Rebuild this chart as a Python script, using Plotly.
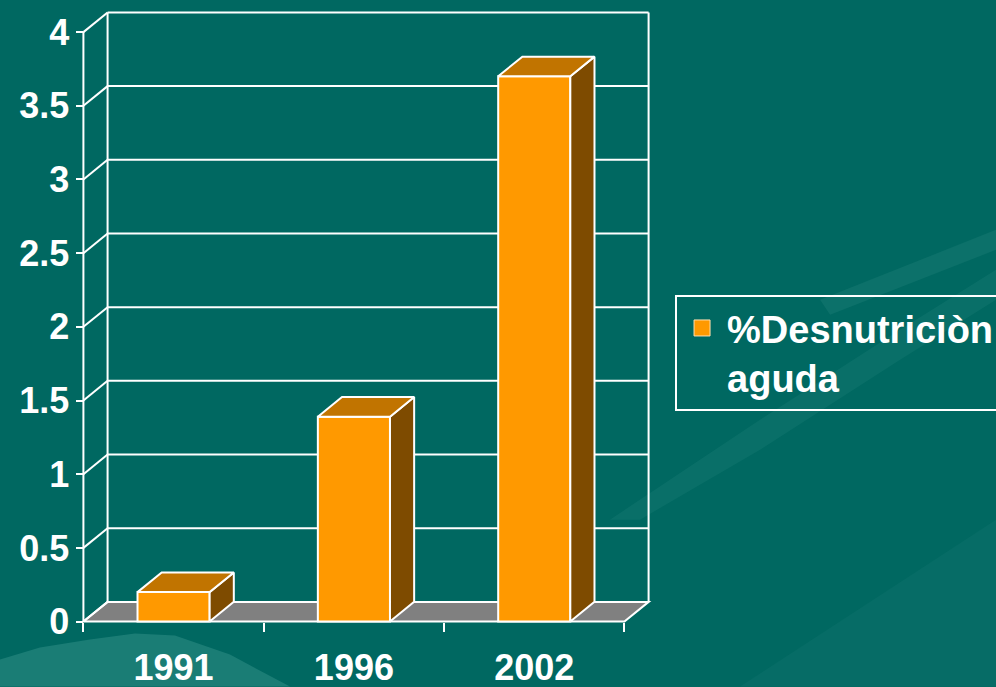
import plotly.graph_objects as go

# ---------------- data ----------------
years = ["1991", "1996", "2002"]
values = [0.2, 1.39, 3.7]
y_ticks = [0, 0.5, 1, 1.5, 2, 2.5, 3, 3.5, 4]
y_tick_labels = ["0", "0.5", "1", "1.5", "2", "2.5", "3", "3.5", "4"]
series_name = "%Desnutriciòn<br>aguda"

# ---------------- style ----------------
W, H = 996, 687
BG = "#006861"
FRONT = "#FF9900"
TOP = "#C17400"
SIDE = "#7E4B00"
FLOOR = "#808080"
LINE = "white"
FONT = "Liberation Sans, Arial, sans-serif"

DX, DY = 0.134, 0.1336      # 3-D depth offset in axis units
BAR_W = 0.4
pos = list(range(len(years)))
xl, xr = -0.5, len(years) - 0.5
ymax = y_ticks[-1]
PADX, PADY = 0.03, 0.03
x0, x1 = xl - PADX, xr + DX + PADX
y0, y1 = -PADY, ymax + DY + PADY
SX, SY = 180.3, 147.45       # px per axis unit
left_px, zero_px = 83.5, 622
ml = left_px - PADX * SX
pw = (x1 - x0) * SX
mr = W - ml - pw
mb = H - zero_px - PADY * SY
ph = (y1 - y0) * SY
mt = H - mb - ph

def px(xp):
    return (xp - ml) / pw
def py(yp):
    return (H - mb - yp) / ph

fig = go.Figure()

shapes = []
# ---------- subtle background decoration ----------
def deco(points, alpha):
    d = "M" + " L".join(f"{px(a):.4f},{py(b):.4f}" for a, b in points) + " Z"
    shapes.append(dict(type="path", xref="paper", yref="paper", path=d,
                       fillcolor=f"rgba(120,200,190,{alpha})", line=dict(width=0), layer="below"))
deco([(0, 660), (40, 648), (90, 640), (135, 634), (175, 636), (230, 655), (290, 687), (0, 687)], 0.22)
deco([(610, 520), (760, 420), (900, 330), (996, 270), (996, 300), (900, 360), (760, 450), (640, 520)], 0.08)
deco([(820, 300), (996, 230), (996, 250), (830, 315)], 0.10)
deco([(740, 687), (996, 520), (996, 687)], 0.05)

# ---------- walls and floor as shapes below traces ----------
def line(xa, ya, xb, yb):
    shapes.append(dict(type="line", xref="x", yref="y", x0=xa, y0=ya, x1=xb, y1=yb,
                       line=dict(color=LINE, width=2), layer="below"))

shapes.append(dict(type="path", xref="x", yref="y",
                   path=f"M{xl},0 L{xr},0 L{xr+DX},{DY} L{xl+DX},{DY} Z",
                   fillcolor=FLOOR, line=dict(color=LINE, width=2), layer="below"))
for v in y_ticks:
    line(xl + DX, v + DY, xr + DX, v + DY)
    line(xl, v, xl + DX, v + DY)
line(xl + DX, DY, xl + DX, ymax + DY)
line(xr + DX, DY, xr + DX, ymax + DY)
line(xl, 0, xl, ymax)

# ---------- bars ----------
fig.add_trace(go.Bar(x=pos, y=values, width=BAR_W, marker=dict(color=FRONT, line=dict(color=LINE, width=2)),
                     showlegend=False, hoverinfo="skip"))
for p, v in zip(pos, values):
    a, b = p - BAR_W / 2, p + BAR_W / 2
    fig.add_trace(go.Scatter(x=[b, b + DX, b + DX, b, b], y=[0, DY, v + DY, v, 0],
                             mode="lines", fill="toself", fillcolor=SIDE,
                             line=dict(color=LINE, width=2), showlegend=False, hoverinfo="skip"))
    fig.add_trace(go.Scatter(x=[a, b, b + DX, a + DX, a], y=[v, v, v + DY, v + DY, v],
                             mode="lines", fill="toself", fillcolor=TOP,
                             line=dict(color=LINE, width=2), showlegend=False, hoverinfo="skip"))

fig.add_trace(go.Scatter(x=[None], y=[None], mode="markers", name=series_name,
                         marker=dict(symbol="square", size=16, color=FRONT, line=dict(color="#FFE0B0", width=1))))

fig.update_layout(
    width=W, height=H,
    margin=dict(l=ml, r=mr, t=mt, b=mb, pad=0, autoexpand=False),
    paper_bgcolor=BG, plot_bgcolor="rgba(0,0,0,0)",
    font=dict(family=FONT, color="white", size=36, weight="bold"),
    shapes=shapes,
    showlegend=True,
    legend=dict(x=px(675), y=py(295), xanchor="left", yanchor="top",
                bordercolor=LINE, borderwidth=2, bgcolor="rgba(0,0,0,0)", valign="top",
                itemwidth=40, tracegroupgap=0,
                font=dict(family=FONT, size=38, color="white", weight="bold")),
    xaxis=dict(range=[x0, x1], tickmode="array", tickvals=pos, ticktext=years,
               ticks="", showgrid=False, zeroline=False, showline=False,
               anchor="free", position=(0 - y0) / (y1 - y0), ticklabelstandoff=21,
               tickfont=dict(family=FONT, size=36, color="white", weight="bold"),
               minor=dict(tickmode="array", tickvals=[p + 0.5 for p in [-1] + pos], ticks="outside",
                          ticklen=9, tickwidth=2, tickcolor=LINE, showgrid=False)),
    yaxis=dict(range=[y0, y1], tickmode="array", tickvals=y_ticks, ticktext=y_tick_labels,
               ticks="outside", ticklen=7, tickwidth=2, tickcolor=LINE,
               showgrid=False, zeroline=False, showline=False,
               anchor="free", position=(xl - x0) / (x1 - x0), ticklabelstandoff=0,
               tickfont=dict(family=FONT, size=36, color="white", weight="bold")),
)

fig.write_html("out.html", config={"displayModeBar": False},
               post_script="document.body.style.margin='0';document.body.style.background='%s';" % BG)
